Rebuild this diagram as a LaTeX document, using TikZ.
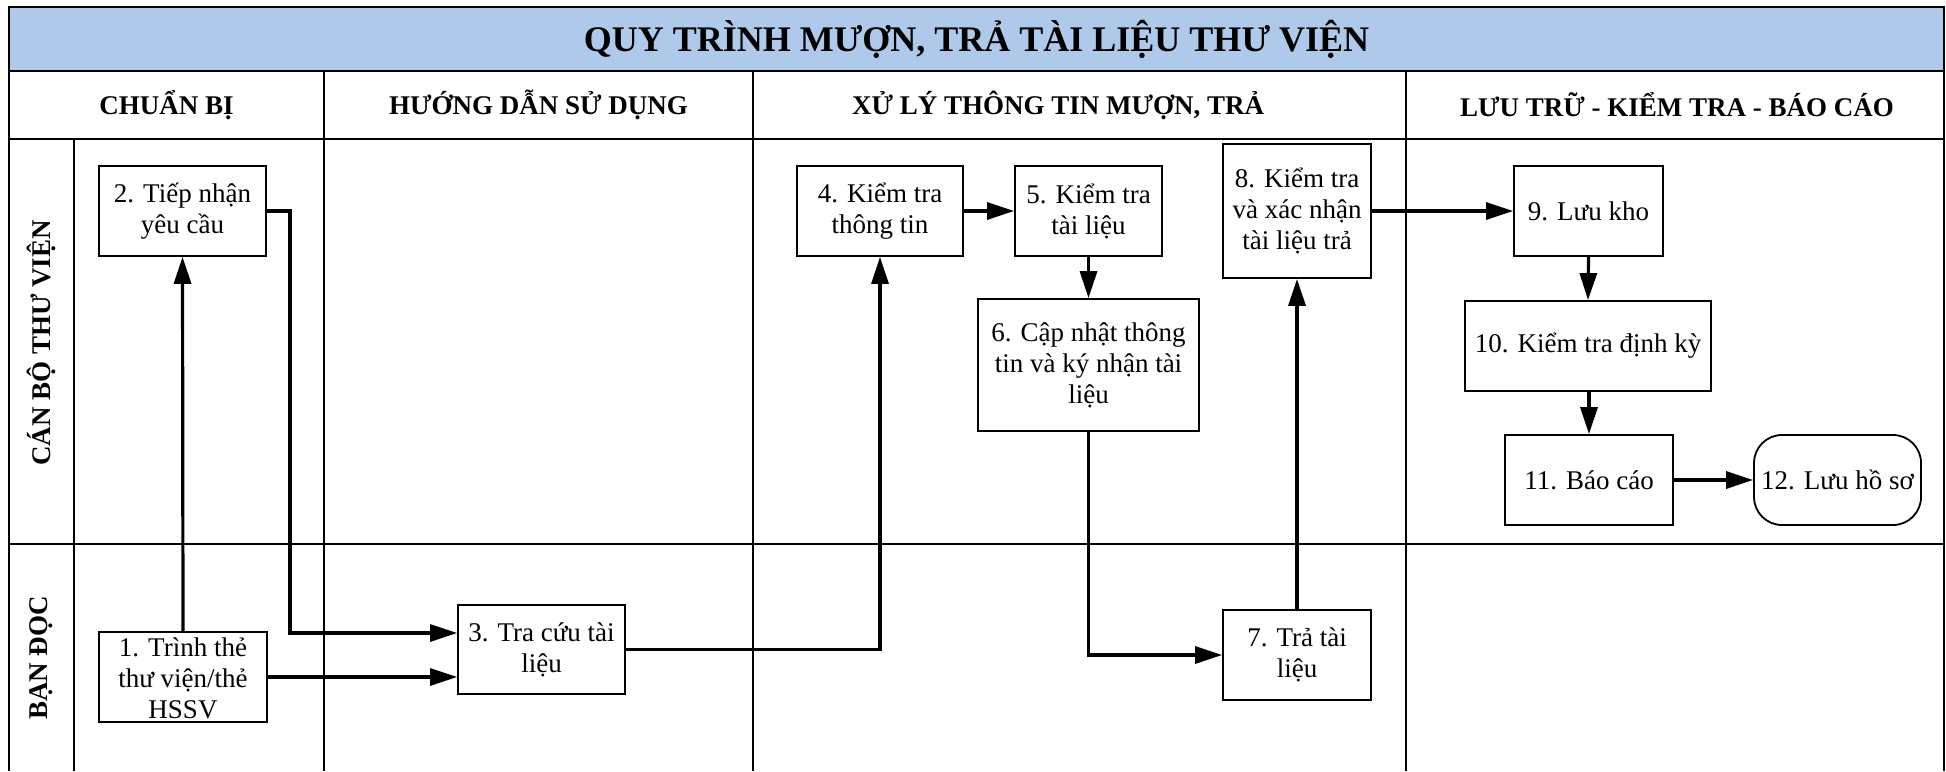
\documentclass[tikz,border=0pt]{standalone}
\usepackage{fontspec}
\setmainfont{Liberation Serif}
\usetikzlibrary{arrows.meta,calc}
\definecolor{titleblue}{RGB}{174,201,233}
\tikzset{
  gridline/.style={line width=1pt},
  box/.style={draw, line width=0.9pt, inner sep=0pt, align=center,
    font=\rmfamily\fontsize{13.5pt}{15.5pt}\selectfont},
  boxtext/.style={inner sep=0pt, align=center, font=\rmfamily\fontsize{13.5pt}{15.5pt}\selectfont},
  arr/.style={line width=1.6pt, -{Triangle[length=13.5pt,width=8.5pt]}},
  hdr/.style={inner sep=0pt, font=\rmfamily\fontsize{13.5pt}{16pt}\selectfont\bfseries},
  ttl/.style={inner sep=0pt, font=\rmfamily\fontsize{18pt}{20pt}\selectfont\bfseries},
}
\begin{document}
\begin{tikzpicture}[x=0.5pt,y=-0.5pt]
\useasboundingbox (0,0) rectangle (1946,771);
% frame and grid
\fill[titleblue] (9,7) rectangle (1944,71);
\draw[gridline] (9,771) -- (9,7) -- (1944,7) -- (1944,771);
\draw[gridline] (9,71) -- (1944,71);
\draw[gridline] (9,139) -- (1944,139);
\draw[gridline] (9,544) -- (1944,544);
\draw[gridline] (74,139) -- (74,771);
\foreach \x in {324,753,1406} \draw[gridline] (\x,71) -- (\x,771);
% title and headers
\node[ttl] (title) at (976.5,39) {QUY TRÌNH MƯỢN, TRẢ TÀI LIỆU THƯ VIỆN};
\node[hdr] (h1) at (166.5,105) {CHUẨN BỊ};
\node[hdr] (h2) at (538.5,105) {HƯỚNG DẪN SỬ DỤNG};
\node[hdr] (h3) at (1058,105) {XỬ LÝ THÔNG TIN MƯỢN, TRẢ};
\node[hdr] (h4) at (1677,105) {LƯU TRỮ - KIỂM TRA - BÁO CÁO};
\node[hdr, rotate=90] (lane1) at (41.5,343) {CÁN BỘ THƯ VIỆN};
\node[hdr, rotate=90] (lane2) at (41.5,658) {BẠN ĐỌC};
% boxes
\node[box, minimum width=84pt, minimum height=45pt] (b1) at (183,677) {};
\node[boxtext] (b1t) at ([yshift=-0.5pt]b1.center) {1. Trình thẻ\\thư viện/thẻ\\HSSV};
\node[box, minimum width=83.5pt, minimum height=45pt] (b2) at (182.5,211) {2. Tiếp nhận\\yêu cầu};
\node[box, minimum width=83.5pt, minimum height=44.5pt] (b3) at (541.5,649.5) {3. Tra cứu tài\\liệu};
\node[box, minimum width=83pt, minimum height=45pt] (b4) at (880,211) {4. Kiểm tra\\thông tin};
\node[box, minimum width=73.5pt, minimum height=45pt] (b5) at (1088.5,211) {5. Kiểm tra\\tài liệu};
\node[box, minimum width=110.5pt, minimum height=66pt] (b6) at (1088.5,365) {6. Cập nhật thông\\tin và ký nhận tài\\liệu};
\node[box, minimum width=74pt, minimum height=45pt] (b7) at (1297,655) {7. Trả tài\\liệu};
\node[box, minimum width=74pt, minimum height=67pt] (b8) at (1297,211) {8. Kiểm tra\\và xác nhận\\tài liệu trả};
\node[box, minimum width=74.5pt, minimum height=45pt] (b9) at (1588.5,211) {9. Lưu kho};
\node[box, minimum width=123pt, minimum height=45pt] (b10) at (1588,346) {10. Kiểm tra định kỳ};
\node[box, minimum width=84pt, minimum height=45pt] (b11) at (1589,480) {11. Báo cáo};
\node[box, rounded corners=14pt, minimum width=83.5pt, minimum height=45pt] (b12) at (1837.5,480) {12. Lưu hồ sơ};
% connectors
\coordinate (j1) at (290,633);
\draw[arr] (b1.north) -- (b2.south);
\draw[arr] (b1.east) -- (b3.west |- b1.east);
\draw[arr] (b2.east) -- (j1 |- b2.east) -- (j1) -- (b3.west |- j1);
\draw[arr] (b3.east) -| (b4.south);
\draw[arr] (b4.east) -- (b5.west);
\draw[arr] (b5.south) -- (b6.north);
\draw[arr] (b6.south) |- (b7.west);
\draw[arr] (b7.north) -- (b8.south);
\draw[arr] (b8.east) -- (b9.west);
\draw[arr] (b9.south) -- (b10.south |- b10.north);
\draw[arr] (b10.south -| b11.north) -- (b11.north);
\draw[arr] (b11.east) -- (b12.west);
\end{tikzpicture}
\end{document}
